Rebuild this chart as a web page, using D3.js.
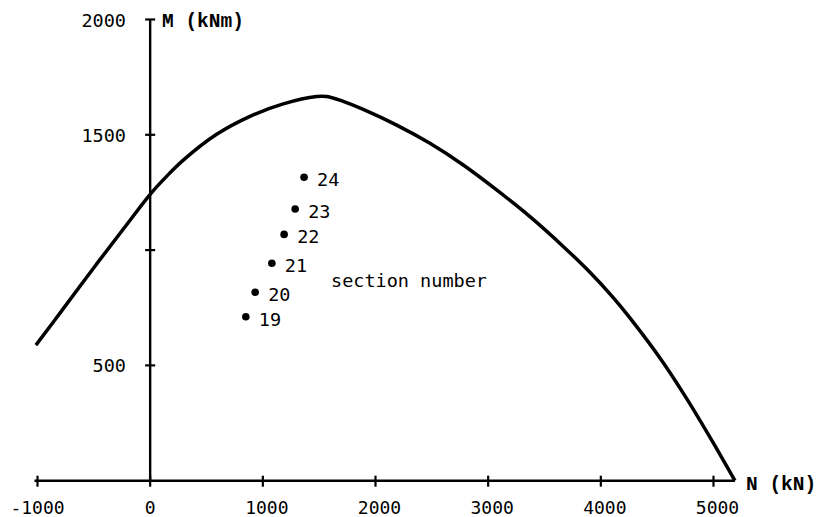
<!DOCTYPE html>
<html>
<head>
<meta charset="utf-8">
<script src="https://cdn.jsdelivr.net/npm/d3@7"></script>
<style>
  html, body { margin: 0; padding: 0; background: #fff; }
  svg { display: block; }
</style>
</head>
<body>
<svg id="chart" width="818" height="517"></svg>
<script>
// Interaction diagram (N, M)
const curveN = [-1014, -771, -475, -209, 0, 150, 294, 590, 886, 1181, 1478, 1567, 1714, 1891, 2188, 2483, 2779, 3075, 3371, 3666, 3903, 4110, 4258, 4554, 4762, 4998, 5190];
const curveM = [588, 746, 940, 1110, 1242, 1322, 1390, 1502, 1580, 1634, 1666, 1666, 1645, 1610, 1542, 1463, 1369, 1261, 1145, 1016, 904, 794, 706, 512, 356, 164, 0];

// Section points
const sectionLabels = ["19", "20", "21", "22", "23", "24"];
const sectionN = [849, 932, 1080, 1189, 1287, 1366];
const sectionM = [711, 817, 943, 1068, 1178, 1316];

const xTicks = [-1000, 0, 1000, 2000, 3000, 4000, 5000];
const yTicks = [500, 1000, 1500, 2000];
const yTickLabels = [500, 1500, 2000];

const svg = d3.select("#chart");
const x = d3.scaleLinear().domain([-1000, 5000]).range([37.5, 713.5]);
const y = d3.scaleLinear().domain([0, 2000]).range([480.7, 19.5]);

const ink = "#000";
const monoNum = "'DejaVu Sans Mono', monospace";
const monoTitle = "'Liberation Mono', 'Courier New', monospace";

// X axis line
svg.append("line")
  .attr("x1", x(-1000) - 3).attr("x2", x(5190))
  .attr("y1", y(0)).attr("y2", y(0))
  .attr("stroke", ink).attr("stroke-width", 2.6);

// Y axis line
svg.append("line")
  .attr("x1", x(0)).attr("x2", x(0))
  .attr("y1", y(2000)).attr("y2", y(0))
  .attr("stroke", ink).attr("stroke-width", 2.4);

// X ticks
svg.selectAll(".xtick").data(xTicks).enter().append("line")
  .attr("x1", d => x(d)).attr("x2", d => x(d))
  .attr("y1", y(0) - 5).attr("y2", y(0) + 6)
  .attr("stroke", ink).attr("stroke-width", 2.2);

svg.selectAll(".xlab").data(xTicks).enter().append("text")
  .attr("x", d => x(d) + (d > 0 ? 4 : 0))
  .attr("y", 514)
  .attr("text-anchor", "middle")
  .attr("font-family", monoNum)
  .attr("font-size", 18)
  .attr("fill", ink)
  .text(d => d);

// Y ticks
svg.selectAll(".ytick").data(yTicks).enter().append("line")
  .attr("x1", x(0) - 5).attr("x2", x(0) + 5)
  .attr("y1", d => y(d)).attr("y2", d => y(d))
  .attr("stroke", ink).attr("stroke-width", 2.2);

svg.selectAll(".ylab").data(yTickLabels).enter().append("text")
  .attr("x", 126)
  .attr("y", d => y(d) + 7)
  .attr("text-anchor", "end")
  .attr("font-family", monoNum)
  .attr("font-size", 18.5)
  .attr("fill", ink)
  .text(d => d);

// Axis titles
svg.append("text")
  .attr("x", 162).attr("y", 27)
  .attr("font-family", monoTitle)
  .attr("font-weight", "bold")
  .attr("font-size", 19.5)
  .attr("fill", ink)
  .text("M (kNm)");

svg.append("text")
  .attr("x", 746).attr("y", 490)
  .attr("font-family", monoTitle)
  .attr("font-weight", "bold")
  .attr("font-size", 19.5)
  .attr("fill", ink)
  .text("N (kN)");

// Interaction curve
const curveData = curveN.map((n, i) => [n, curveM[i]]);
svg.append("path")
  .datum(curveData)
  .attr("d", d3.line().x(d => x(d[0])).y(d => y(d[1])).curve(d3.curveCatmullRom.alpha(0.5)))
  .attr("fill", "none")
  .attr("stroke", ink)
  .attr("stroke-width", 3.5)
  .attr("stroke-linejoin", "round");

// Section points
const pts = sectionLabels.map((l, i) => ({ label: l, n: sectionN[i], m: sectionM[i] }));
svg.selectAll(".pt").data(pts).enter().append("circle")
  .attr("cx", d => x(d.n)).attr("cy", d => y(d.m))
  .attr("r", 3.8).attr("fill", ink);

svg.selectAll(".ptlab").data(pts).enter().append("text")
  .attr("x", d => x(d.n) + 13)
  .attr("y", d => y(d.m) + 9)
  .attr("font-family", monoNum)
  .attr("font-size", 18.5)
  .attr("fill", ink)
  .text(d => d.label);

svg.append("text")
  .attr("x", 331).attr("y", 287)
  .attr("font-family", monoNum)
  .attr("font-size", 18.5)
  .attr("fill", ink)
  .text("section number");
</script>
</body>
</html>
